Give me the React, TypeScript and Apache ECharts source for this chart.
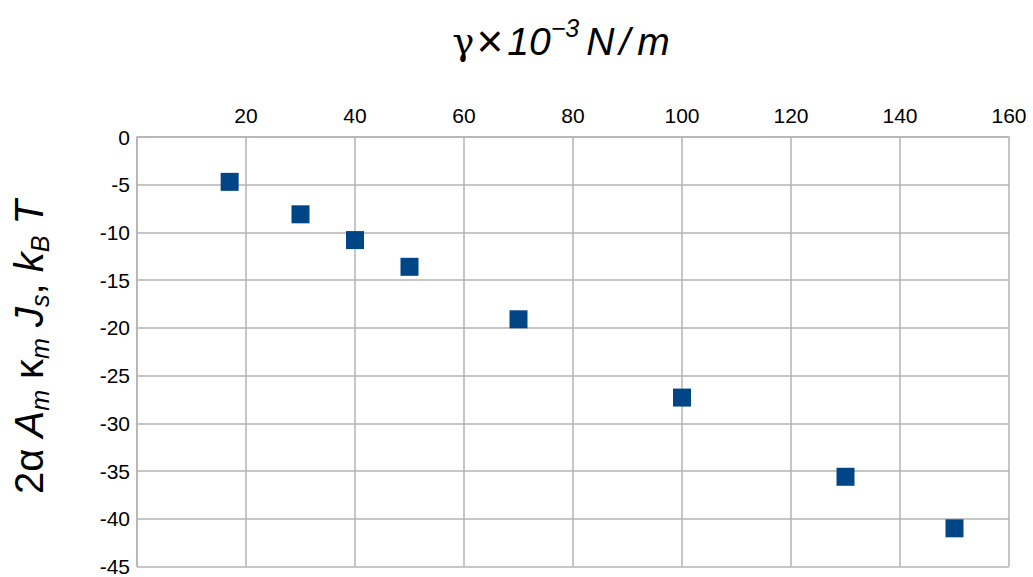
import React, { useEffect, useRef } from "react";
import * as echarts from "echarts";

const gammaValues = [17, 30, 40, 50, 70, 100, 130, 150];
const energyValues = [-4.7, -8.1, -10.8, -13.6, -19.1, -27.3, -35.6, -41.0];

const SANS = "'Liberation Sans', Arial, sans-serif";

export default function App() {
  const ref = useRef<HTMLDivElement>(null);
  useEffect(() => {
    if (!ref.current) return;
    const chart = echarts.init(ref.current, null, { renderer: "svg" });
    const data = gammaValues.map((x, i) => [x, energyValues[i]]);
    const titleSize = 39;
    const subSize = 25;
    const ySize = 40;
    chart.setOption({
      animation: false,
      backgroundColor: "#ffffff",
      grid: { left: 137, right: 24, top: 137, bottom: 9, containLabel: false },
      xAxis: {
        type: "value",
        position: "top",
        min: 0,
        max: 160,
        interval: 20,
        axisLine: { show: true, lineStyle: { color: "#b3b3b3", width: 1.5 } },
        axisTick: { show: false },
        axisLabel: {
          showMinLabel: false,
          color: "#000000",
          fontFamily: SANS,
          fontSize: 21,
          margin: 11,
        },
        splitLine: { show: true, lineStyle: { color: "#b3b3b3", width: 1.5 } },
      },
      yAxis: {
        type: "value",
        min: -45,
        max: 0,
        interval: 5,
        axisLine: { show: true, lineStyle: { color: "#b3b3b3", width: 1.5 } },
        axisTick: { show: false },
        axisLabel: {
          color: "#000000",
          fontFamily: SANS,
          fontSize: 21,
          margin: 7,
        },
        splitLine: { show: true, lineStyle: { color: "#b3b3b3", width: 1.5 } },
      },
      series: [
        {
          type: "scatter",
          symbol: "rect",
          symbolSize: 18,
          itemStyle: { color: "#004586", opacity: 1 },
          data,
        },
      ],
      graphic: [
        {
          type: "text",
          x: 561,
          y: 41,
          style: {
            text: "{g|γ}{x|×}{i|10}{sup|−3}{n|N}{s|/}{m|m}",
            align: "center",
            verticalAlign: "middle",
            fill: "#000000",
            rich: {
              g: { fontFamily: "'DejaVu Serif', serif", fontSize: 37, fill: "#000", padding: [0, 2, 0, 0] },
              x: { fontFamily: SANS, fontSize: 46, fill: "#000", padding: [0, 4, 0, 0] },
              i: { fontFamily: SANS, fontStyle: "italic", fontSize: titleSize, fill: "#000" },
              sup: { fontFamily: SANS, fontStyle: "italic", fontSize: subSize, fill: "#000", padding: [0, 7, 26, 0] },
              n: { fontFamily: SANS, fontStyle: "italic", fontSize: titleSize, fill: "#000", padding: [0, 5, 0, 0] },
              s: { fontFamily: SANS, fontStyle: "italic", fontSize: titleSize, fill: "#000", padding: [0, 7, 0, 0] },
              m: { fontFamily: SANS, fontStyle: "italic", fontSize: titleSize, fill: "#000" },
            },
          },
        },
        {
          type: "text",
          x: 29,
          y: 347,
          rotation: Math.PI / 2,
          style: {
            text: "{n|2α }{i|A}{sub|m}{n| κ}{sub|m}{i| J}{sub|s}{n|, }{i|k}{sub|B}{i| T}",
            align: "center",
            verticalAlign: "middle",
            fill: "#000000",
            rich: {
              n: { fontFamily: SANS, fontSize: ySize, fill: "#000" },
              i: { fontFamily: SANS, fontStyle: "italic", fontSize: ySize, fill: "#000" },
              sub: { fontFamily: SANS, fontStyle: "italic", fontSize: subSize, fill: "#000", padding: [22, 0, 0, 0] },
            },
          },
        },
      ],
    });
    return () => chart.dispose();
  }, []);
  return (
    <div
      ref={ref}
      style={{ position: "fixed", left: 0, top: 0, width: 1033, height: 577, background: "#fff" }}
    />
  );
}
